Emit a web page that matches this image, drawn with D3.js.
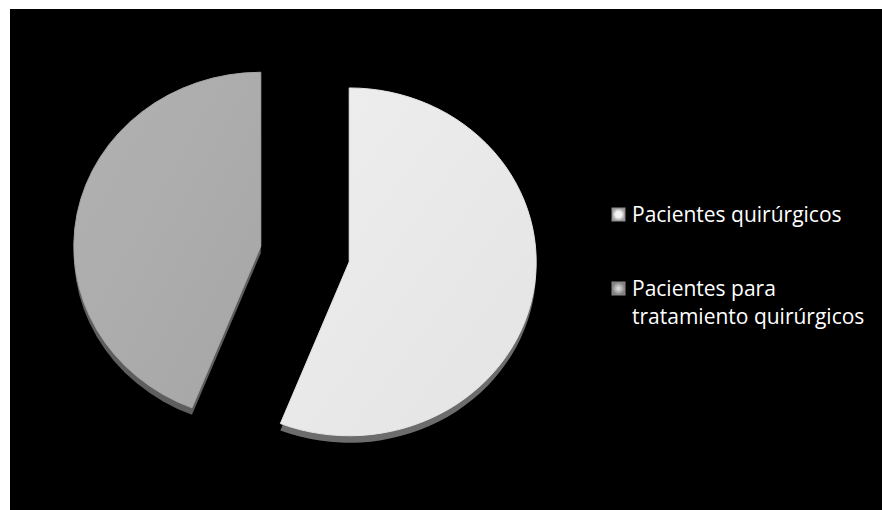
<!DOCTYPE html>
<html>
<head>
<meta charset="utf-8">
<script src="https://cdn.jsdelivr.net/npm/d3@7"></script>
<style>
  html, body { margin: 0; padding: 0; background: #fff; }
  svg { display: block; }
</style>
</head>
<body>
<svg id="chart" width="882" height="510"></svg>
<script>
// Patient groups and their shares
const categories = ["Pacientes quirúrgicos", "Pacientes para tratamiento quirúrgicos"];
const values = [56, 44];
const legendLines = [["Pacientes quirúrgicos"], ["Pacientes para", "tratamiento quirúrgicos"]];

const topColors = ["#eeeeee", "#b2b2b2"];
const topColorsDark = ["#e4e4e4", "#a6a6a6"];
const rimColors = ["#6c6c6c", "#5e5e5e"];

const svg = d3.select("#chart");
const W = 882, H = 510;

// dark plot panel
svg.append("rect").attr("x", 10).attr("y", 9).attr("width", W - 10).attr("height", H - 9).attr("fill", "#000");

const defs = svg.append("defs");
topColors.forEach((c, i) => {
  const g = defs.append("linearGradient").attr("id", "face" + i)
    .attr("x1", "0%").attr("y1", "0%").attr("x2", "100%").attr("y2", "100%");
  g.append("stop").attr("offset", "0%").attr("stop-color", c);
  g.append("stop").attr("offset", "100%").attr("stop-color", topColorsDark[i]);
});
// legend swatch bevels
const sw0 = defs.append("radialGradient").attr("id", "sw0");
sw0.append("stop").attr("offset", "45%").attr("stop-color", "#f4f4f4");
sw0.append("stop").attr("offset", "100%").attr("stop-color", "#a0a0a0");
const sw1 = defs.append("radialGradient").attr("id", "sw1");
sw1.append("stop").attr("offset", "20%").attr("stop-color", "#d4d4d4");
sw1.append("stop").attr("offset", "100%").attr("stop-color", "#7e7e7e");

// pie geometry
const cx = 305, cy = 254;
const R = 187;          // horizontal radius
const squash = 0.93;    // vertical / horizontal
const explode = 45;
const depth = 7;

const pie = d3.pie().sort(null).value(d => d)(values);
const arc = d3.arc().innerRadius(0).outerRadius(R);

const slices = svg.append("g").attr("transform", `translate(${cx},${cy}) scale(1,${squash})`);

pie.forEach((p, i) => {
  const mid = (p.startAngle + p.endAngle) / 2;
  const dx = Math.sin(mid) * explode;
  const dy = -Math.cos(mid) * explode;
  const g = slices.append("g").attr("transform", `translate(${dx},${dy})`);
  // side wall
  g.append("path").attr("d", arc(p)).attr("fill", rimColors[i])
    .attr("transform", `translate(0,${depth / squash})`);
  // top face
  g.append("path").attr("d", arc(p)).attr("fill", `url(#face${i})`)
    .attr("stroke", topColorsDark[i]).attr("stroke-width", 1);
});

// legend
const legend = svg.append("g");
const legendX = 612;
const legendY = [208, 282];
categories.forEach((c, i) => {
  const row = legend.append("g").attr("transform", `translate(${legendX},${legendY[i]})`);
  row.append("rect").attr("width", 13).attr("height", 13)
    .attr("fill", `url(#sw${i})`).attr("stroke", "#8a8a8a").attr("stroke-width", 1);
  const label = row.append("text")
    .attr("fill", "#ffffff")
    .attr("font-family", "'Open Sans', Lato, sans-serif")
    .attr("font-size", 21);
  legendLines[i].forEach((t, j) => {
    label.append("tspan").attr("x", 20).attr("y", 13.5 + j * 28).text(t);
  });
});
</script>
</body>
</html>
